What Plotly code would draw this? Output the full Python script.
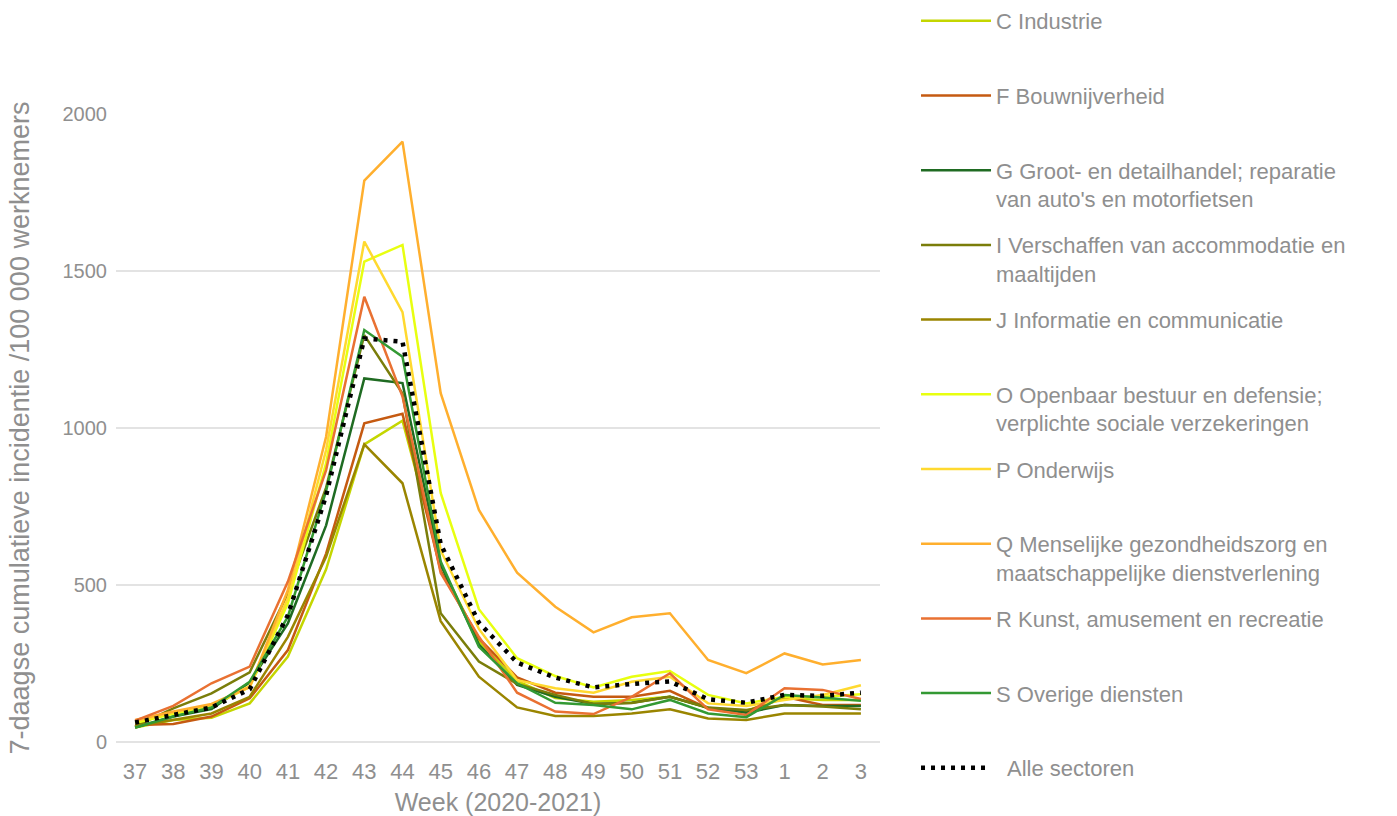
import plotly.graph_objects as go

weeks = ["37","38","39","40","41","42","43","44","45","46","47","48","49","50","51","52","53","1","2","3"]

c_industrie = [46,70,77,123,272,550,948,1023,565,320,195,140,128,134,144,108,100,139,134,134]
f_bouw = [54,57,81,139,293,600,1015,1045,545,330,206,157,144,144,163,107,97,144,118,118]
g_groot = [46,81,105,190,378,690,1158,1143,565,310,182,144,121,125,144,109,93,118,115,115]
i_verschaffen = [50,107,155,222,474,810,1296,1110,410,256,185,150,121,124,144,110,102,118,113,104]
j_informatie = [50,70,91,144,335,590,948,824,385,208,110,83,83,91,104,75,70,91,91,91]
o_openbaar = [60,90,115,175,442,888,1530,1583,793,423,267,210,174,208,226,150,123,144,144,152]
p_onderwijs = [65,95,118,178,458,930,1594,1369,610,360,197,171,157,192,208,123,115,134,150,181]
q_zorg = [70,97,121,175,484,972,1788,1912,1111,739,539,431,349,397,410,261,219,282,247,261]
r_kunst = [68,115,187,240,511,866,1418,1100,538,335,157,97,89,144,219,104,86,171,166,137]
s_overig = [46,81,110,192,399,800,1312,1227,575,303,187,125,118,104,134,91,79,150,142,131]
alle = [62,86,110,168,404,785,1285,1275,630,380,253,205,174,185,193,136,125,150,147,157]

series = [
    ("C Industrie<br> ", c_industrie, "#C4D600"),
    ("F Bouwnijverheid<br> ", f_bouw, "#C55A11"),
    ("G Groot- en detailhandel; reparatie<br>van auto's en motorfietsen", g_groot, "#1F6B22"),
    ("I Verschaffen van accommodatie en<br>maaltijden", i_verschaffen, "#7A7D0A"),
    ("J Informatie en communicatie<br> ", j_informatie, "#9A8500"),
    ("O Openbaar bestuur en defensie;<br>verplichte sociale verzekeringen", o_openbaar, "#E8FF10"),
    ("P Onderwijs<br> ", p_onderwijs, "#FFD92F"),
    ("Q Menselijke gezondheidszorg en<br>maatschappelijke dienstverlening", q_zorg, "#FFAF2E"),
    ("R Kunst, amusement en recreatie<br> ", r_kunst, "#E97132"),
    ("S Overige diensten<br> ", s_overig, "#339933"),
]

grey = "#8F8F8F"
font_family = "Liberation Sans, Arial, sans-serif"

fig = go.Figure()
for i, (name, vals, col) in enumerate(series):
    fig.add_trace(go.Scatter(
        x=weeks, y=vals, name=name, mode="lines",
        line=dict(color=col, width=2.5),
        legendgroup=f"g{i}",
    ))
fig.add_trace(go.Scatter(
    x=weeks, y=alle, name="  Alle sectoren", mode="lines",
    line=dict(color="black", width=4.5, dash="4px,6px"),
    legendgroup="galle",
))

fig.update_layout(
    width=1397, height=816,
    margin=dict(l=116, r=517, t=114, b=74),
    plot_bgcolor="white", paper_bgcolor="white",
    font=dict(family=font_family, color=grey, size=22),
    showlegend=True,
    legend=dict(
        xref="container", x=0.6557, xanchor="left",
        yref="container", y=1.0, yanchor="top",
        font=dict(size=22, color=grey, family=font_family),
        tracegroupgap=14.5, valign="top", maxheight=1200, itemwidth=70,
        bgcolor="rgba(0,0,0,0)",
    ),
    xaxis=dict(
        type="category", range=[-0.5, 19.5], automargin=False,
        showgrid=False, showline=False, zeroline=False,
        ticks="", tickfont=dict(size=22, color=grey), ticklabelstandoff=14,
        title=dict(text="Week (2020-2021)", font=dict(size=25, color=grey), standoff=10),
    ),
    yaxis=dict(
        range=[0, 2000], tickvals=[0, 500, 1000, 1500, 2000], automargin=False,
        showgrid=True, gridcolor="#E3E3E3", gridwidth=1.5,
        zeroline=True, zerolinecolor="#E3E3E3", zerolinewidth=1.5,
        showline=False, ticks="", tickfont=dict(size=20, color=grey),
        ticklabelstandoff=8,
        title=dict(text="7-daagse cumulatieve incidentie /100 000 werknemers",
                   font=dict(size=27, color=grey), standoff=25),
    ),
)

fig.write_html("out.html", config={"displayModeBar": False},
               post_script="document.body.style.margin='0';")
